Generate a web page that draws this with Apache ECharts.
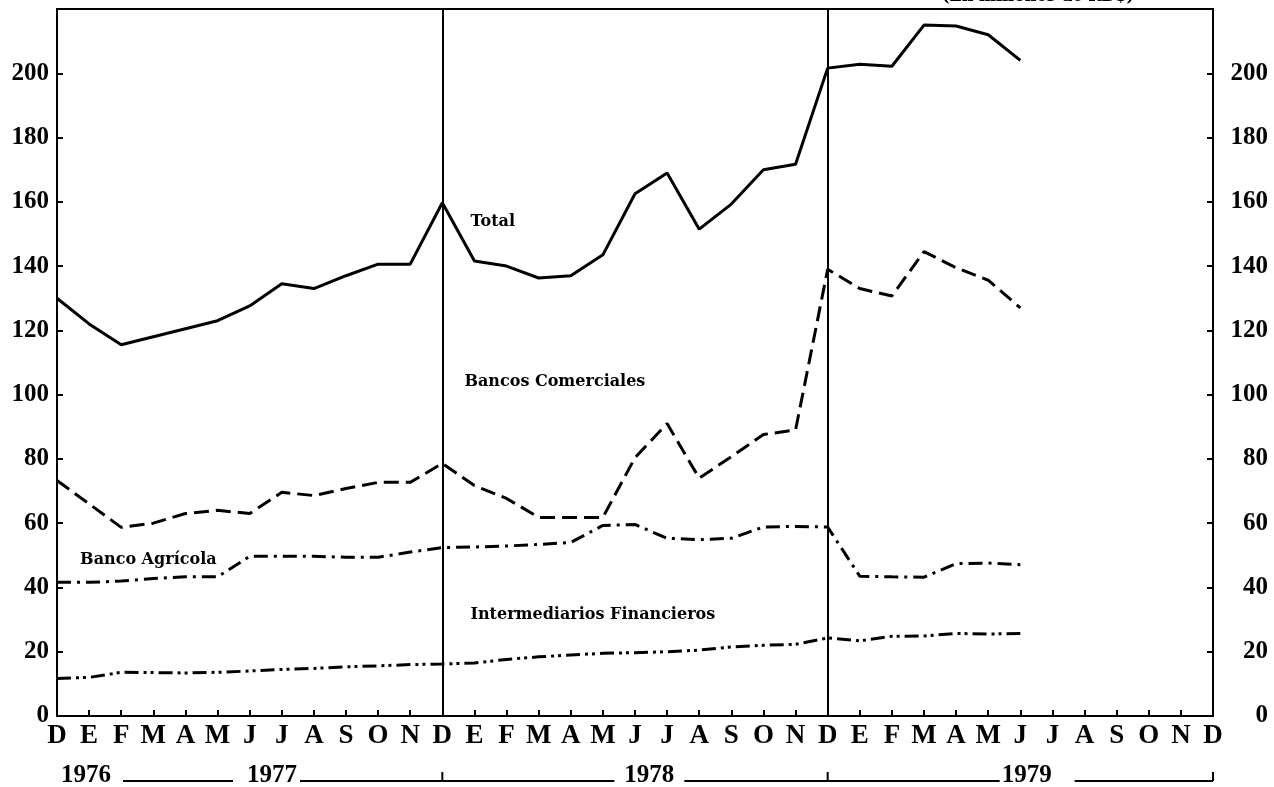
<!DOCTYPE html>
<html>
<head>
<meta charset="utf-8">
<script src="https://cdn.jsdelivr.net/npm/echarts@6/dist/echarts.min.js"></script>
<style>
  html, body { margin: 0; padding: 0; background: #fff; }
  #chart { width: 1274px; height: 787px; }
</style>
</head>
<body>
<div id="chart"></div>
<script>
// meses dic 1976 - dic 1979
const categories = [
  '1976-12',
  '1977-01', '1977-02', '1977-03', '1977-04', '1977-05', '1977-06',
  '1977-07', '1977-08', '1977-09', '1977-10', '1977-11', '1977-12',
  '1978-01', '1978-02', '1978-03', '1978-04', '1978-05', '1978-06',
  '1978-07', '1978-08', '1978-09', '1978-10', '1978-11', '1978-12',
  '1979-01', '1979-02', '1979-03', '1979-04', '1979-05', '1979-06',
  '1979-07', '1979-08', '1979-09', '1979-10', '1979-11', '1979-12'
]
const monthLetters = [
  'D', 'E', 'F', 'M', 'A', 'M', 'J', 'J', 'A', 'S', 'O', 'N', 'D',
  'E', 'F', 'M', 'A', 'M', 'J', 'J', 'A', 'S', 'O', 'N', 'D',
  'E', 'F', 'M', 'A', 'M', 'J', 'J', 'A', 'S', 'O', 'N', 'D'
]
const yearLabels = ['1976', '1977', '1978', '1979']

// En millones de RD$
const total = [130, 122, 115.5, 118, 120.5, 123, 127.6, 134.5, 133, 137, 140.6, 140.6, 159.7,
  141.6, 140, 136.3, 137, 143.5, 162.5, 169, 151.5, 159.3, 170, 171.7, 201.6,
  202.8, 202.2, 215, 214.7, 212, 204]
const bancosComerciales = [73.3, 66, 58.7, 60, 63, 64, 63, 69.6, 68.6, 70.8, 72.7, 72.7, 78.6,
  71.7, 67.7, 61.8, 61.8, 61.8, 80.4, 91, 74, 80.7, 87.6, 89, 139,
  133, 130.7, 144.5, 139.5, 135.6, 127]
const bancoAgricola = [41.6, 41.6, 42, 42.8, 43.3, 43.3, 49.7, 49.7, 49.7, 49.4, 49.4, 51, 52.4,
  52.6, 52.9, 53.4, 54, 59.3, 59.6, 55.3, 54.9, 55.3, 58.8, 59, 58.8,
  43.5, 43.3, 43.2, 47.4, 47.6, 47.1]
const intermediarios = [11.7, 12, 13.6, 13.5, 13.4, 13.6, 14, 14.5, 14.8, 15.3, 15.6, 16, 16.2,
  16.5, 17.6, 18.4, 19, 19.5, 19.7, 20, 20.5, 21.5, 22, 22.3, 24.3,
  23.4, 24.8, 24.9, 25.7, 25.5, 25.7]

const yearBreaks = ['1977-12', '1978-12']

const serif = "'Liberation Serif', 'DejaVu Serif', serif"
const labelFont = "'DejaVu Serif', serif"

function seriesLabel(text, cat, val, dx) {
  return {
    symbol: 'circle',
    symbolSize: 0,
    silent: true,
    data: [{
      coord: [cat, val],
      label: {
        show: true,
        formatter: text,
        position: [dx, 0],
        align: 'left',
        verticalAlign: 'middle',
        color: '#000',
        fontFamily: labelFont,
        fontWeight: 'bold',
        fontSize: 16,
      },
    }],
  }
}

const chart = echarts.init(document.getElementById('chart'))

const yAxisBase = {
  type: 'value',
  min: 0,
  max: 220,
  interval: 20,
  splitLine: { show: false },
  axisLine: { show: true, lineStyle: { color: '#000', width: 2 } },
  axisTick: { show: true, inside: true, length: 6, lineStyle: { color: '#000', width: 2 } },
}

chart.setOption({
  animation: false,
  backgroundColor: '#fff',
  grid: {
    left: 57,
    right: 61,
    top: 9,
    bottom: 71,
    show: true,
    borderColor: '#000',
    borderWidth: 2,
  },
  xAxis: {
    type: 'category',
    boundaryGap: false,
    data: categories,
    axisLine: { lineStyle: { color: '#000', width: 2 } },
    axisTick: { inside: true, length: 6, interval: 0, lineStyle: { color: '#000', width: 2 } },
    axisLabel: {
      interval: 0,
      margin: 7,
      color: '#000',
      fontFamily: serif,
      fontWeight: 'bold',
      fontSize: 27,
      formatter: (v, i) => monthLetters[i],
    },
    splitLine: { show: false },
  },
  yAxis: [
    Object.assign({}, yAxisBase, {
      position: 'left',
      axisLabel: {
        color: '#000', fontFamily: serif, fontWeight: 'bold', fontSize: 25,
        margin: 8, showMaxLabel: false,
      },
    }),
    Object.assign({}, yAxisBase, {
      position: 'right',
      axisLabel: {
        color: '#000', fontFamily: serif, fontWeight: 'bold', fontSize: 25,
        margin: 55, align: 'right', showMaxLabel: false,
      },
    }),
  ],
  series: [
    {
      name: 'Total',
      type: 'line',
      data: total,
      symbol: 'none',
      lineStyle: { color: '#000', width: 3, type: 'solid' },
      markLine: {
        silent: true,
        symbol: 'none',
        label: { show: false },
        lineStyle: { color: '#000', width: 2, type: 'solid' },
        data: yearBreaks.map(c => ({ xAxis: c })),
      },
      markPoint: seriesLabel('Total', '1978-01', 153.7, -4),
    },
    {
      name: 'Bancos Comerciales',
      type: 'line',
      data: bancosComerciales,
      symbol: 'none',
      lineStyle: { color: '#000', width: 3, type: [15, 7] },
      markPoint: seriesLabel('Bancos Comerciales', '1978-01', 104, -10),
    },
    {
      name: 'Banco Agrícola',
      type: 'line',
      data: bancoAgricola,
      symbol: 'none',
      lineStyle: { color: '#000', width: 3, type: [14, 6, 3, 6] },
      markPoint: seriesLabel('Banco Agrícola', '1977-01', 48.6, -9),
    },
    {
      name: 'Intermediarios Financieros',
      type: 'line',
      data: intermediarios,
      symbol: 'none',
      lineStyle: { color: '#000', width: 3, type: [14, 5, 3, 4, 3, 5] },
      markPoint: seriesLabel('Intermediarios Financieros', '1978-01', 31.5, -4),
    },
  ],
})

// fila de años bajo el eje
const px = c => chart.convertToPixel({ xAxisIndex: 0 }, c)
const x0 = px('1976-12'), x1 = px('1977-12'), x2 = px('1978-12'), x3 = px('1979-12')
const lineY = 781
const yearStyle = { fill: '#000', font: "bold 25px 'Liberation Serif', serif", textAlign: 'center', textVerticalAlign: 'middle' }
const seg = (a, b) => ({ type: 'line', shape: { x1: a, y1: lineY, x2: b, y2: lineY }, style: { stroke: '#000', lineWidth: 2 } })
const tick = x => ({ type: 'line', shape: { x1: x, y1: lineY - 9, x2: x, y2: lineY }, style: { stroke: '#000', lineWidth: 2 } })

chart.setOption({
  graphic: [
    { type: 'text', left: 942, top: -11, style: { text: '(En millones de RD$)', fill: '#000', font: "bold 16px 'DejaVu Serif', serif" } },
    { type: 'text', x: x0 + 29, y: 776, style: Object.assign({ text: yearLabels[0] }, yearStyle) },
    seg(x0 + 66, x0 + 176),
    { type: 'text', x: x0 + 215, y: 776, style: Object.assign({ text: yearLabels[1] }, yearStyle) },
    seg(x0 + 243, x1),
    tick(x1),
    seg(x1, x1 + 172),
    { type: 'text', x: x1 + 207, y: 776, style: Object.assign({ text: yearLabels[2] }, yearStyle) },
    seg(x1 + 242, x2),
    tick(x2),
    seg(x2, x2 + 172),
    { type: 'text', x: x2 + 199, y: 776, style: Object.assign({ text: yearLabels[3] }, yearStyle) },
    seg(x2 + 247, x3),
    tick(x3),
  ],
})
</script>
</body>
</html>
